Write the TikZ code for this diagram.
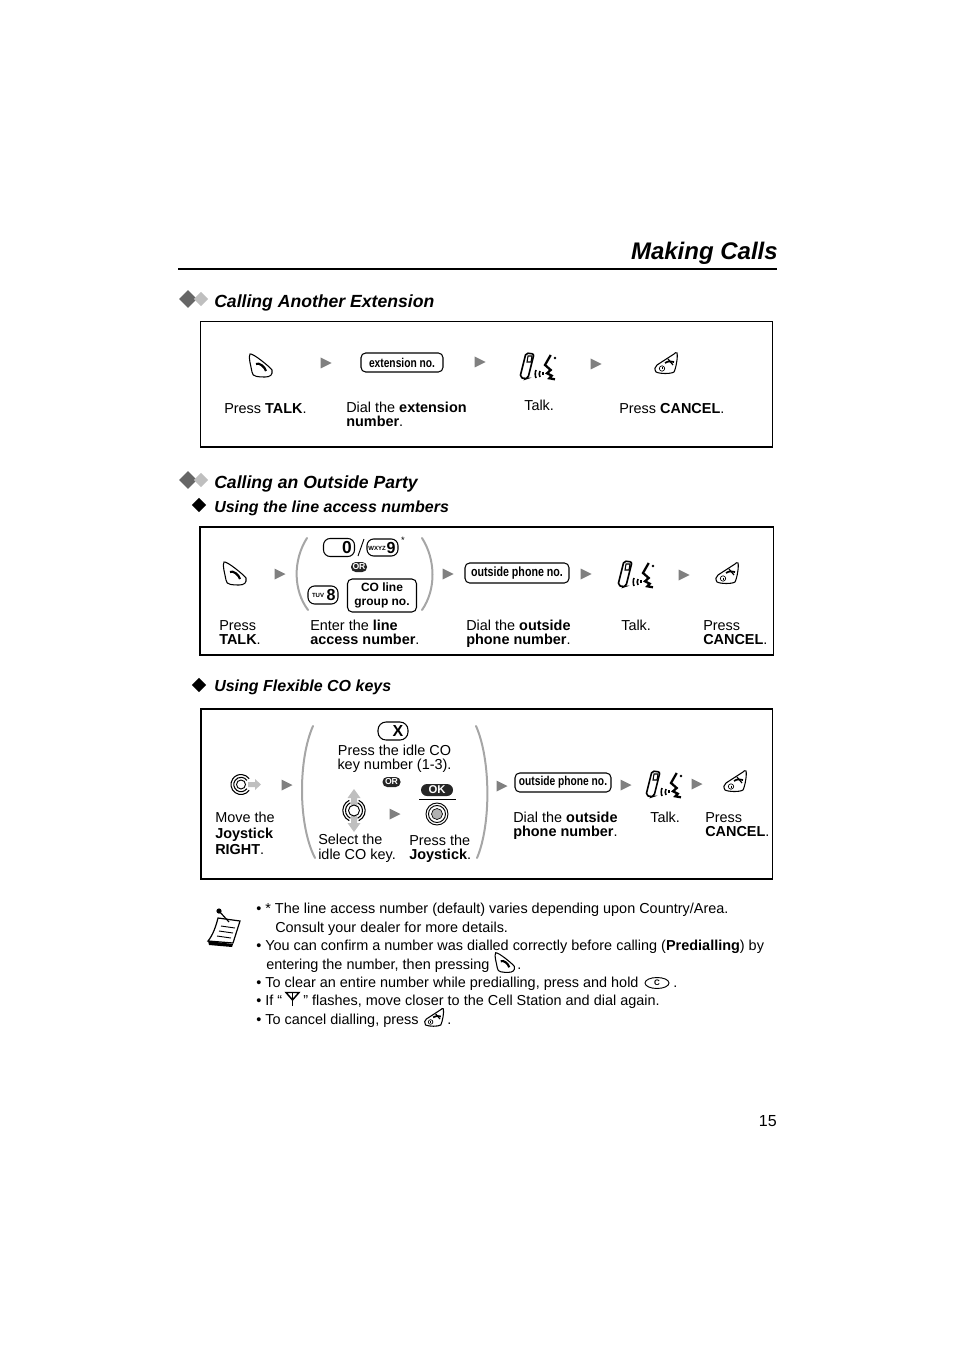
\documentclass[tikz,border=0pt]{standalone}
\usepackage{fontspec}
\usetikzlibrary{shapes.geometric}
\setmainfont{Liberation Sans}
\newcommand{\keytxt}[1]{\scalebox{0.8}[1]{\bfseries #1}}
\tikzset{
  txt/.style={anchor=base west, inner sep=0pt, align=left, font=\fontsize{10.83}{10}\selectfont},
  headtxt/.style={anchor=base west, inner sep=0pt, font=\fontsize{13.2}{15}\selectfont\bfseries\itshape},
  subtxt/.style={anchor=base west, inner sep=0pt, font=\fontsize{12}{14}\selectfont\bfseries\itshape},
  framebox/.style={draw, line width=1pt},
  keybox/.style={draw, rounded corners=3.5pt, line width=0.8pt, inner sep=0pt, align=center,
    font=\fontsize{9.6}{9.6}\selectfont},
  pill/.style={fill=black!85, text=white, rounded corners=3.5pt, inner sep=0pt,
    font=\fontsize{6.5}{7}\selectfont\bfseries},
  paren/.style={draw=black!35, line width=1.5pt, line cap=round},
  talkkey/.pic={
    \draw[line width=0.8pt] (-11,-12) .. controls (-8,-13) and (9,1) .. (11,4)
      .. controls (12,9) and (9,11) .. (4,11) .. controls (-2,11) and (-9,11) .. (-9,6)
      .. controls (-10,0) and (-13,-9) .. (-11,-12) -- cycle;
    \draw[line width=1.6pt] (-5,-2) .. controls (-2,-4) and (4,1) .. (5,5);
  },
  cancelkey/.pic={
    \draw[line width=0.8pt] (11,-12) .. controls (12,-8) and (10,3) .. (8,7)
      .. controls (5,9) and (-6,9) .. (-10,7) .. controls (-12,4) and (-11,2) .. (-9,0)
      -- (8,-11) .. controls (9,-12) and (10,-13) .. (11,-12) -- cycle;
    \draw[line width=0.5pt] (-4,3.5) circle (2.7);
    \draw[line width=0.5pt] (-4,2.5) -- (-4,4.5);
    \draw[line width=1.3pt] (-1,-2) .. controls (2,-4) and (5,-4) .. (8,-3);
    \draw[line width=0.9pt] (2,-6) -- (7,0);
  },
  talking/.pic={
    \draw[line width=1.2pt, rounded corners=1.5pt] (-11,-14) -- (-3,-13) -- (-9,11) -- (-12,12) -- (-17,10) -- cycle;
    \draw[line width=0.8pt] (-9,-11) -- (-5,-11) -- (-6,-5) -- (-10,-5) -- cycle;
    \draw[line width=1.2pt] (-1,3) .. controls (-2,5) and (-2,9) .. (-1,11);
    \draw[line width=1.2pt] (3,4) .. controls (2,6) and (2,8) .. (3,10);
    \draw[line width=1.2pt] (6,5) .. controls (5.5,6) and (5.5,7) .. (6,8);
    \draw[line width=1.7pt] (13.7,-12) -- (8,-2) -- (13.7,3) -- (10,6.3) -- (14.7,8.7) -- (12.3,11.3) -- (18,12.3);
    \fill (18,-9) circle (1.3);
  },
  greytip/.pic={\fill[black!50] (-5.5,-5.5) -- (5.5,0) -- (-5.5,5.5) -- cycle;},
  ringsright/.pic={
    \draw[line width=0.7pt] (0,0) circle (4.5);
    \draw[line width=0.8pt] (35:7.2) arc (35:325:7.2);
    \draw[line width=0.8pt] (35:10) arc (35:325:10);
  },
  ringsupdown/.pic={
    \filldraw[fill=white, line width=0.7pt] (0,0) circle (5.5);
    \draw[line width=0.8pt] (65:8.5) arc (65:-65:8.5);
    \draw[line width=0.8pt] (115:8.5) arc (115:245:8.5);
    \draw[line width=0.8pt] (65:11.2) arc (65:-65:11.2);
    \draw[line width=0.8pt] (115:11.2) arc (115:245:11.2);
  },
  diamondmark/.pic={\fill[pic actions] (-8,0) -- (0,-8) -- (8,0) -- (0,8) -- cycle;},
}
\begin{document}
\begin{tikzpicture}[x=0.75pt,y=-0.75pt]
\useasboundingbox (0,0) rectangle (954,1351);

% page title
\node[anchor=base east, inner sep=0pt, font=\fontsize{18}{22}\selectfont\bfseries\itshape] (title) at (778,260) {Making Calls};
\draw[line width=1.5pt] (178,269) -- (777,269);

% first section
\pic[fill=black!60, scale=1.12] at (188,299) {diamondmark};
\pic[fill=black!25, scale=0.9] at (201,299) {diamondmark};
\node[headtxt] (headext) at (214,307.5) {Calling Another Extension};
\draw[framebox] (200.5,321.5) rectangle (772.5,447);

\pic at (261,366) {talkkey};
\pic at (326,363) {greytip};
\node[keybox, minimum width=61.5pt, minimum height=14.25pt] (extno) at (402,362.5) {\keytxt{extension no.}};
\pic at (480,362) {greytip};
\pic at (537,367) {talking};
\pic at (596,364) {greytip};
\pic at (666,365) {cancelkey};

\node[txt] (extpress) at (224,413) {Press \textbf{TALK}.};
\node[txt] (extdial) at (346,426) {Dial the \textbf{extension}\\\textbf{number}.};
\node[txt] (exttalk) at (524,411) {Talk.};
\node[txt] (extcancel) at (619,413) {Press \textbf{CANCEL}.};

% second section
\pic[fill=black!60, scale=1.12] at (188,480) {diamondmark};
\pic[fill=black!25, scale=0.9] at (201,480) {diamondmark};
\node[headtxt] (headout) at (214,488) {Calling an Outside Party};
\pic[fill=black, scale=0.9] at (199,505) {diamondmark};
\node[subtxt] (headline) at (214,512) {Using the line access numbers};
\draw[framebox, line width=1.2pt] (200,527) rectangle (773.5,655);

\pic at (235,574) {talkkey};
\pic at (280,574) {greytip};
\draw[paren] (307,538) .. controls (293,560) and (293,590) .. (308,610);
\draw[paren] (422,538) .. controls (436,560) and (436,590) .. (422,610);
\node[keybox, rounded corners=5pt, minimum width=23.25pt, minimum height=13.5pt] (zerokey) at (339,547.5) {};
\node[inner sep=0pt, font=\fontsize{13}{13}\selectfont\bfseries] (zero) at (347,548) {0};
\draw[line width=0.7pt] (358,556) -- (364,539);
\node[keybox, rounded corners=5pt, minimum width=23.25pt, minimum height=12.75pt] (ninekey) at (382.5,547.5) {};
\node[inner sep=0pt, font=\fontsize{4.5}{5}\selectfont\bfseries] (wxyz) at (377,548) {WXYZ};
\node[inner sep=0pt, font=\fontsize{12}{12}\selectfont\bfseries] (nine) at (391,548) {9};
\node[inner sep=0pt, font=\fontsize{7}{7}\selectfont] (star) at (403,540) {*};
\node[pill, minimum width=12pt, minimum height=7.5pt] (orline) at (359,567) {OR};
\node[keybox, rounded corners=5pt, minimum width=22.5pt, minimum height=13.5pt] (eightkey) at (323,595) {};
\node[inner sep=0pt, font=\fontsize{4.5}{5}\selectfont\bfseries] (tuv) at (318,595.5) {TUV};
\node[inner sep=0pt, font=\fontsize{12}{12}\selectfont\bfseries] (eight) at (331,595) {8};
\node[keybox, minimum width=51.75pt, minimum height=24.75pt, font=\fontsize{9}{10.5}\selectfont\bfseries] (coline) at (382,595.5) {CO line\\group no.};
\pic at (448,574) {greytip};
\node[keybox, minimum width=78pt, minimum height=15pt, font=\fontsize{10}{10}\selectfont] (outno) at (517,573) {\keytxt{outside phone no.}};
\pic at (586,574) {greytip};
\pic at (635,575) {talking};
\pic at (684,575) {greytip};
\pic at (727,575) {cancelkey};

\node[txt] (linepress) at (219,644.5) {Press\\[0.5pt]\textbf{TALK}.};
\node[txt] (lineenter) at (310,644.5) {Enter the \textbf{line}\\[0.5pt]\textbf{access number}.};
\node[txt] (linedial) at (466,644.5) {Dial the \textbf{outside}\\[0.5pt]\textbf{phone number}.};
\node[txt] (linetalk) at (621,630) {Talk.};
\node[txt] (linecancel) at (703,644.5) {Press\\[0.5pt]\textbf{CANCEL}.};

% third section
\pic[fill=black, scale=0.9] at (199,685) {diamondmark};
\node[subtxt] (headflex) at (214,691) {Using Flexible CO keys};
\draw[framebox, line width=1.2pt] (201,709) rectangle (772.5,879);

\fill[black!25] (248,782) -- (255,782) -- (255,779) -- (261,784.5) -- (255,790) -- (255,787) -- (248,787) -- cycle;
\pic at (241,784.5) {ringsright};
\pic at (287,785) {greytip};
\draw[paren] (313,726) .. controls (298,760) and (298,825) .. (315,858);
\draw[paren] (476,726) .. controls (491,760) and (491,825) .. (477,858);
\node[keybox, rounded corners=6pt, minimum width=22.5pt, minimum height=13.5pt] (xkey) at (393,731) {};
\node[inner sep=0pt, font=\fontsize{12}{12}\selectfont\bfseries] (xlabel) at (398,731) {X};
\node[txt, anchor=base, align=center] (flexidle) at (394.5,769) {Press the idle CO\\key number (1-3).};
\node[pill, minimum width=13.5pt, minimum height=7.5pt] (orflex) at (391.5,782) {OR};
\fill[black!25] (354,789) -- (360.5,798) -- (357,798) -- (357,823) -- (360.5,823) -- (354,832) -- (347.5,823) -- (351,823) -- (351,798) -- (347.5,798) -- cycle;
\pic at (354,810.5) {ringsupdown};
\pic at (395,814) {greytip};
\node[pill, rounded corners=4.5pt, minimum width=24pt, minimum height=9pt, font=\fontsize{8.5}{8.5}\selectfont\bfseries] (okpill) at (437,790) {OK};
\draw[line width=0.7pt] (419,799.5) -- (456,799.5);
\draw[line width=0.7pt] (437,814) circle (11);
\draw[line width=0.7pt] (437,814) circle (8.5);
\filldraw[fill=black!30, line width=0.5pt] (437,814) circle (5.5);
\node[txt] (flexselect) at (318,859) {Select the\\[1pt]idle CO key.};
\node[txt] (flexjoy) at (409,859) {Press the\\\textbf{Joystick}.};
\node[txt] (flexmove) at (215,854) {Move the\\[2pt]\textbf{Joystick}\\[2pt]\textbf{RIGHT}.};
\pic at (502,786) {greytip};
\node[keybox, minimum width=72pt, minimum height=14.25pt] (flexno) at (563,782.5) {\keytxt{outside phone no.}};
\pic at (626,785) {greytip};
\pic at (663,785) {talking};
\pic at (697,784) {greytip};
\pic at (735,783) {cancelkey};
\node[txt] (flexdial) at (513,836.5) {Dial the \textbf{outside}\\[0.5pt]\textbf{phone number}.};
\node[txt] (flextalk) at (650,822) {Talk.};
\node[txt] (flexcancel) at (705,836.5) {Press\\[0.5pt]\textbf{CANCEL}.};

% notes
\fill (208,941) -- (233,944) -- (232,947) -- (209,945) -- cycle;
\draw[line width=0.9pt, fill=white] (218,918) -- (240,921) -- (233,943) -- (208,941) .. controls (213,935) and (216,926) .. (218,918) -- cycle;
\draw[line width=0.7pt] (221,926) -- (235,928);
\draw[line width=0.7pt] (219,931) -- (233,933);
\draw[line width=0.7pt] (217,936) -- (231,938);
\draw[line width=0.9pt] (219,911) -- (229,922);
\fill (219,911) circle (2.6);

\node[txt] (noteone) at (256,913) {• * The line access number (default) varies depending upon Country/Area.};
\node[txt] (noteonea) at (275,932) {Consult your dealer for more details.};
\node[txt] (notetwo) at (256,950) {• You can confirm a number was dialled correctly before calling (\textbf{Predialling}) by};
\node[txt] (notetwoa) at (266,969) {entering the number, then pressing};
\pic[scale=0.85] at (505,963) {talkkey};
\node[txt] (notetwob) at (517,969) {.};
\node[txt] (notethree) at (256,987) {• To clear an entire number while predialling, press and hold};
\node[draw, ellipse, line width=0.7pt, minimum width=18pt, minimum height=8.25pt, inner sep=0pt, font=\fontsize{6}{6}\selectfont\bfseries] (clearkey) at (657,983) {C};
\node[txt] (notethreea) at (673,987) {.};
\node[txt] (notefour) at (256,1005) {• If “};
\draw[line width=1.3pt] (292.5,1006) -- (292.5,993);
\draw[line width=1.1pt] (286,992.5) -- (299,992.5) -- (292.5,1000) -- cycle;
\node[txt] (notefoura) at (303,1005) {” flashes, move closer to the Cell Station and dial again.};
\node[txt] (notefive) at (256,1024) {• To cancel dialling, press};
\pic[scale=0.85] at (434,1019) {cancelkey};
\node[txt] (notefivea) at (447,1024) {.};

% page number
\node[anchor=base east, inner sep=0pt, font=\fontsize{12}{12}\selectfont] (pagenum) at (777,1126) {15};
\end{tikzpicture}
\end{document}
